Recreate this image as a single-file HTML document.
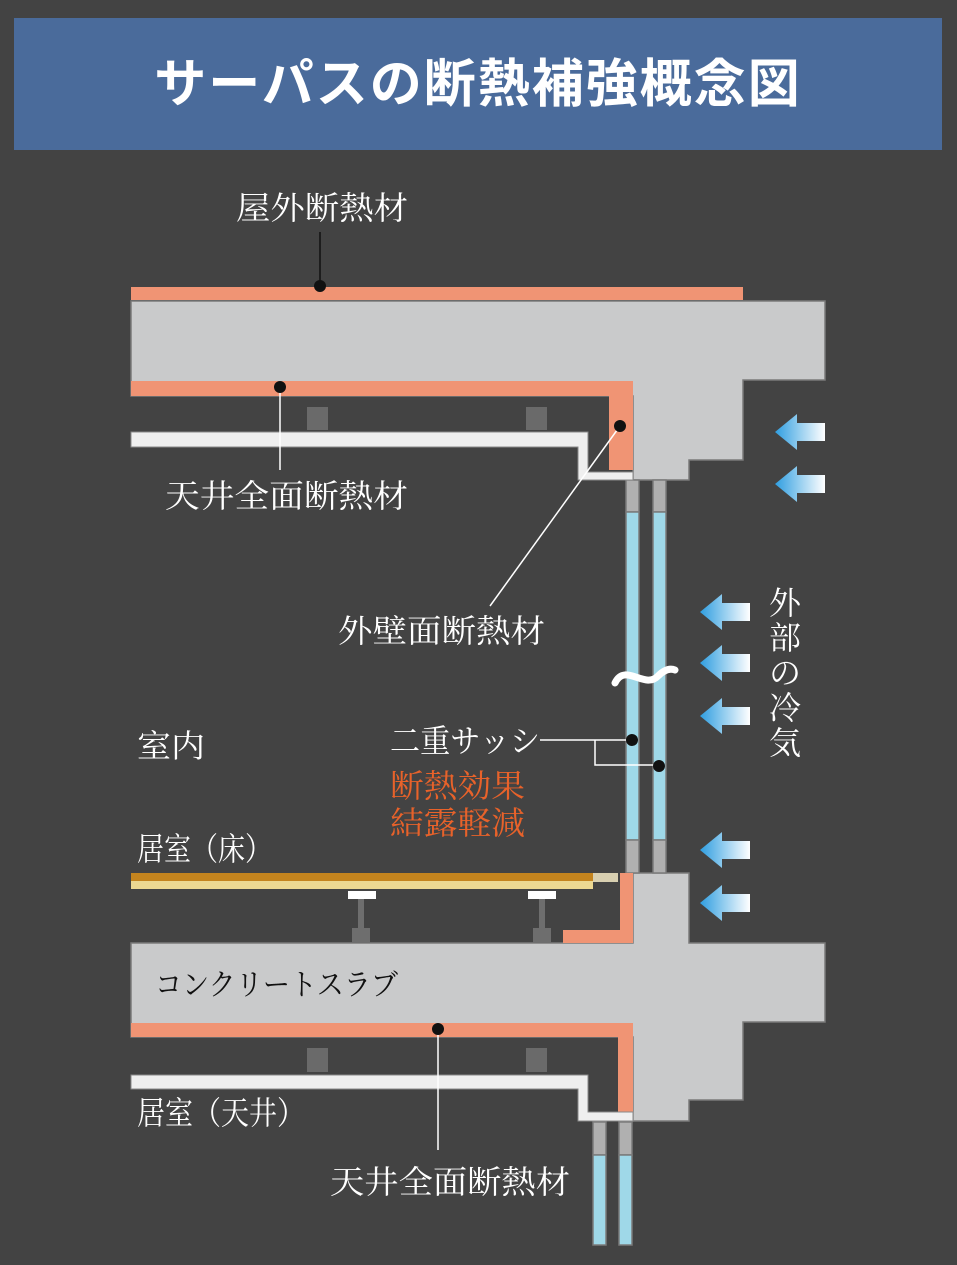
<!DOCTYPE html>
<html><head><meta charset="utf-8"><style>
html,body{margin:0;padding:0;background:#434343;}
svg{display:block}
.w{fill:#fff;font-family:"Liberation Serif","Noto Serif CJK SC",serif;}
</style></head><body>
<svg width="957" height="1265" viewBox="0 0 957 1265" xmlns="http://www.w3.org/2000/svg">
<defs>
<linearGradient id="ag" x1="0" y1="0" x2="1" y2="0">
<stop offset="0" stop-color="#2f9ee0"/><stop offset="1" stop-color="#ffffff"/>
</linearGradient>
<g id="arr"><path d="M0 0 L22 -18 L22 -9 L50 -9 L50 9 L22 9 L22 18 Z" fill="url(#ag)"/></g>
</defs>
<rect width="957" height="1265" fill="#434343"/>
<rect x="14" y="18" width="928" height="132" fill="#4a6b9b"/>
<text x="478" y="102" text-anchor="middle" font-family="Liberation Sans,'Noto Sans CJK JP',sans-serif" font-weight="bold" font-size="52" fill="#fff" letter-spacing="2">サーパスの断熱補強概念図</text>

<g stroke="#7a7a7a" stroke-width="1.5">
<path d="M131 301 H825 V380 H743 V460 H689 V480 H633 V396 H131 Z" fill="#c9cacb"/>
<path d="M633 873 H689 V943 H825 V1022 H743 V1100 H689 V1121 H633 V1037 H131 V943 H633 Z" fill="#c9cacb"/>
<rect x="626" y="480" width="13" height="32" fill="#b0b0b0"/>
<rect x="653" y="480" width="13" height="32" fill="#b0b0b0"/>
<rect x="626" y="512" width="13" height="328" fill="#9fd8e8"/>
<rect x="653" y="512" width="13" height="328" fill="#9fd8e8"/>
<rect x="626" y="840" width="13" height="33" fill="#b0b0b0"/>
<rect x="653" y="840" width="13" height="33" fill="#b0b0b0"/>
<rect x="593" y="1122" width="13" height="33" fill="#b0b0b0"/>
<rect x="619" y="1122" width="13" height="33" fill="#b0b0b0"/>
<rect x="593" y="1155" width="13" height="90" fill="#9fd8e8"/>
<rect x="619" y="1155" width="13" height="90" fill="#9fd8e8"/>
</g>
<rect x="131" y="287" width="612" height="13" fill="#f09474"/>
<path d="M131 381 H633 V470 H609 V396 H131 Z" fill="#f09474"/>
<path d="M620 873 H633 V943 H563 V930 H620 Z" fill="#f09474"/>
<path d="M131 1023 H633 V1112 H618 V1037 H131 Z" fill="#f09474"/>
<g fill="#efefef" stroke="#8a8a8a" stroke-width="1">
<path d="M131 432 H588 V472 H633 V480 H578 V447 H131 Z"/>
<path d="M131 1075 H588 V1112 H633 V1121 H578 V1089 H131 Z"/>
</g>
<g fill="#6a6a6a">
<rect x="307" y="407" width="21" height="23"/><rect x="526" y="407" width="21" height="23"/>
<rect x="307" y="1048" width="21" height="24"/><rect x="526" y="1048" width="21" height="24"/>
</g>
<rect x="131" y="873" width="462" height="8" fill="#c4841e"/>
<rect x="131" y="881" width="462" height="8" fill="#ecd892"/>
<rect x="593" y="873" width="25" height="9" fill="#d8cfb0"/>
<g fill="#6e6e6e">
<rect x="358" y="899" width="6" height="32"/><rect x="352" y="928" width="18" height="15"/>
<rect x="539" y="899" width="6" height="32"/><rect x="533" y="928" width="18" height="15"/>
</g>
<rect x="348" y="891" width="28" height="8" fill="#fff"/>
<rect x="528" y="891" width="28" height="8" fill="#fff"/>
<path d="M615 683 C625 662 645 690 658 676 C664 670 670 668 675 670" stroke="#fff" stroke-width="7" fill="none" stroke-linecap="round"/>
<use href="#arr" x="775" y="432"/><use href="#arr" x="775" y="484"/>
<use href="#arr" x="700" y="612"/><use href="#arr" x="700" y="663"/><use href="#arr" x="700" y="716"/>
<use href="#arr" x="700" y="850"/><use href="#arr" x="700" y="903"/>
<g stroke="#fff" stroke-width="1.5" fill="none">
<line x1="280" y1="387" x2="280" y2="470"/>
<line x1="620" y1="426" x2="490" y2="606"/>
<line x1="540" y1="740" x2="632" y2="740"/>
<path d="M595 740 V765 H659"/>
<line x1="438" y1="1028" x2="438" y2="1150"/>
</g>
<line x1="320" y1="232" x2="320" y2="286" stroke="#111" stroke-width="1.5"/>
<g fill="#111">
<circle cx="320" cy="286" r="6"/><circle cx="280" cy="387" r="6"/><circle cx="620" cy="426" r="6"/>
<circle cx="632" cy="740" r="6"/><circle cx="659" cy="766" r="6"/><circle cx="438" cy="1029" r="6"/>
</g>
<g class="w" font-size="32">
<text x="236" y="219" textLength="172" lengthAdjust="spacingAndGlyphs">屋外断熱材</text>
<text x="165" y="507" textLength="243" lengthAdjust="spacingAndGlyphs">天井全面断熱材</text>
<text x="338" y="642" textLength="207" lengthAdjust="spacingAndGlyphs">外壁面断熱材</text>
<text x="137" y="757" textLength="68" lengthAdjust="spacingAndGlyphs">室内</text>
<text x="390" y="752" textLength="150" lengthAdjust="spacingAndGlyphs">二重サッシ</text>
<text x="137" y="860" textLength="135" lengthAdjust="spacingAndGlyphs">居室（床）</text>
<text x="137" y="1124" textLength="168" lengthAdjust="spacingAndGlyphs">居室（天井）</text>
<text x="330" y="1193" textLength="240" lengthAdjust="spacingAndGlyphs">天井全面断熱材</text>
<text x="769" y="614">外</text>
<text x="769" y="649">部</text>
<text x="769" y="684">の</text>
<text x="769" y="719">冷</text>
<text x="769" y="754">気</text>
</g>
<g font-family="Liberation Serif,'Noto Serif CJK SC',serif" font-size="32" fill="#e8622a">
<text x="390" y="797" textLength="135" lengthAdjust="spacingAndGlyphs">断熱効果</text>
<text x="390" y="834" textLength="135" lengthAdjust="spacingAndGlyphs">結露軽減</text>
</g>
<text x="155" y="995" font-family="Liberation Serif,'Noto Serif CJK SC',serif" font-size="30" fill="#111" textLength="243" lengthAdjust="spacingAndGlyphs">コンクリートスラブ</text>
</svg>
</body></html>
